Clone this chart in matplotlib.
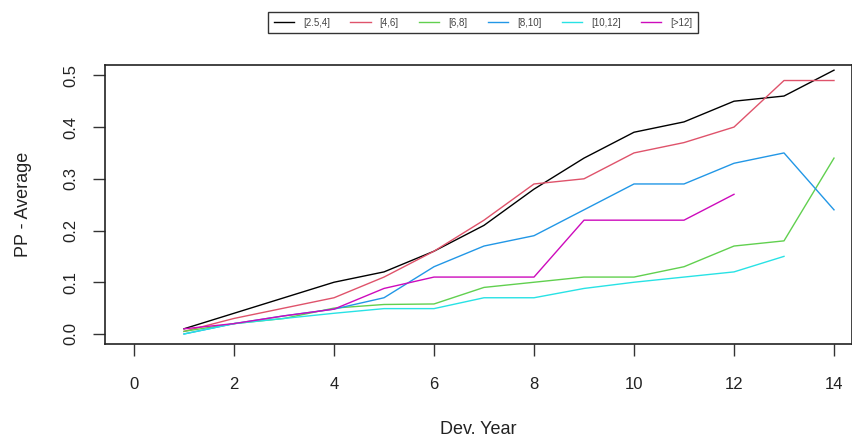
import matplotlib
matplotlib.use("Agg")
import matplotlib.pyplot as plt
import numpy as np

plt.rcParams['font.family'] = ['Liberation Sans', 'DejaVu Sans']

years = np.arange(1, 15)

labels = ["[2.5,4]", "[4,6]", "[6,8]", "[8,10]", "[10,12]", "[>12]"]
colors = ["#000000", "#DF536B", "#61D04F", "#2297E6", "#28E2E5", "#CD0BBC"]

pp_25_4 = [0.01, 0.04, 0.07, 0.10, 0.12, 0.16, 0.21, 0.28, 0.34, 0.39, 0.41, 0.45, 0.46, 0.51]
pp_4_6 = [0.005, 0.03, 0.05, 0.07, 0.11, 0.16, 0.22, 0.29, 0.30, 0.35, 0.37, 0.40, 0.49, 0.49]
pp_6_8 = [0.005, 0.02, 0.03, 0.05, 0.057, 0.058, 0.09, 0.10, 0.11, 0.11, 0.13, 0.17, 0.18, 0.34]
pp_8_10 = [0.0, 0.02, 0.035, 0.048, 0.07, 0.13, 0.17, 0.19, 0.24, 0.29, 0.29, 0.33, 0.35, 0.24]
pp_10_12 = [0.0, 0.02, 0.03, 0.04, 0.049, 0.049, 0.07, 0.07, 0.088, 0.10, 0.11, 0.12, 0.15]
pp_gt12 = [0.01, 0.02, 0.035, 0.048, 0.088, 0.11, 0.11, 0.11, 0.22, 0.22, 0.22, 0.27]

series = [pp_25_4, pp_4_6, pp_6_8, pp_8_10, pp_10_12, pp_gt12]

fig = plt.figure(figsize=(8.52, 4.43), dpi=100)
W, H = 852, 443
ax = fig.add_axes([105 / W, 1 - 344 / H, 747 / W, (344 - 65) / H])

for vals, lab, col in zip(series, labels, colors):
    ax.plot(years[:len(vals)], vals, color=col, lw=1.0, label=lab)

ax.set_xlim(-0.58, 14.36)
ax.set_ylim(-0.0194, 0.520)
ax.set_xticks([0, 2, 4, 6, 8, 10, 12, 14])
ax.set_yticks([0.0, 0.1, 0.2, 0.3, 0.4, 0.5])
ax.set_yticklabels(["0.0", "0.1", "0.2", "0.3", "0.4", "0.5"], rotation=90, va="center")
ax.tick_params(axis="both", length=8.5, width=1, labelsize=12, colors="#333333",
               labelcolor="#222222")
ax.tick_params(axis="y", pad=11)
ax.tick_params(axis="x", pad=15)
for s in ax.spines.values():
    s.set_linewidth(1.2)
    s.set_color("#222222")

ax.set_xlabel("Dev. Year", fontsize=13, color="#222222", labelpad=21)
ax.set_ylabel("PP - Average", fontsize=13, color="#222222", labelpad=22)

leg = fig.legend(loc="center", bbox_to_anchor=(483 / W, 1 - 22.5 / H), ncol=6,
                 fontsize=7, frameon=True, fancybox=False, edgecolor="black",
                 handlelength=2.1, handletextpad=0.9, columnspacing=2.1,
                 borderpad=0.6, borderaxespad=0)
leg.get_frame().set_linewidth(1.0)
for t in leg.get_texts():
    t.set_color("#444444")

fig.savefig("out.png", dpi=100)
